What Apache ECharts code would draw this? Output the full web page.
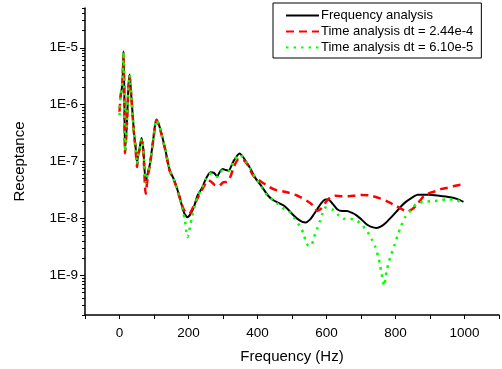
<!DOCTYPE html>
<html>
<head>
<meta charset="utf-8">
<script src="https://cdn.jsdelivr.net/npm/echarts@6/dist/echarts.min.js"></script>
<style>
    body { margin: 0; background: #fff; }
    #chart { width: 502px; height: 369px; }
</style>
</head>
<body>
<div id="chart"></div>
<script>
// 频率响应 (Hz, 值)
let freqFA = [3, 7, 9, 11.5, 14, 16, 21, 25, 29, 35, 42, 46, 51, 54, 57, 64, 69, 76, 82, 88, 98, 107, 114, 121, 133, 145, 160, 173, 187, 197, 206, 216, 226, 240, 250, 264, 274, 283, 291, 299, 308, 316, 330, 348, 358, 369, 380, 393, 410, 431, 445, 459, 475, 488, 502, 516, 530, 540, 552, 563, 573, 585, 597, 605, 618, 631, 645, 659, 673, 688, 702, 716, 730, 745, 758, 773, 788, 802, 815, 830, 847, 864, 880, 897, 926, 959, 978, 997];
let valFA = [1.35e-6, 2.0e-6, 2.75e-6, 8.7e-6, 1.6e-6, 1.55e-7, 4.2e-7, 1.6e-6, 3.4e-6, 1.23e-6, 3.2e-7, 2.0e-7, 9.5e-8, 1.4e-7, 1.55e-7, 2.6e-7, 1.65e-7, 4.4e-8, 6.3e-8, 8.9e-8, 2.5e-7, 5.5e-7, 4.5e-7, 3.2e-7, 1.6e-7, 7.2e-8, 4.5e-8, 2.5e-8, 1.26e-8, 1.05e-8, 1.2e-8, 1.6e-8, 2.5e-8, 3.5e-8, 4.9e-8, 6.5e-8, 6.3e-8, 5.5e-8, 6.6e-8, 7.4e-8, 7.1e-8, 6.9e-8, 1.0e-7, 1.38e-7, 1.2e-7, 9.5e-8, 7.4e-8, 5.2e-8, 3.8e-8, 2.5e-8, 2.1e-8, 1.9e-8, 1.7e-8, 1.45e-8, 1.17e-8, 9.8e-9, 8.7e-9, 8.5e-9, 9.5e-9, 1.17e-8, 1.45e-8, 1.86e-8, 2.14e-8, 2.14e-8, 1.8e-8, 1.45e-8, 1.35e-8, 1.35e-8, 1.26e-8, 1.12e-8, 9.5e-9, 7.9e-9, 7.1e-9, 6.8e-9, 7.2e-9, 8.5e-9, 1.05e-8, 1.3e-8, 1.6e-8, 1.95e-8, 2.3e-8, 2.6e-8, 2.6e-8, 2.6e-8, 2.5e-8, 2.35e-8, 2.2e-8, 1.95e-8];

// 时域分析 dt = 2.44e-4
let freqT1 = [0, 3, 7, 9, 11.5, 14, 16, 21, 25, 29, 35, 42, 46, 51, 54, 57, 64, 69, 76, 82, 88, 98, 107, 114, 121, 133, 145, 160, 173, 187, 202, 216, 230, 245, 255, 264, 275, 288, 300, 312, 322, 331, 345, 359, 370, 388, 402, 416, 433, 450, 483, 516, 545, 560, 573, 585, 597, 610, 626, 645, 664, 683, 702, 720, 735, 755, 773, 790, 802, 818, 835, 848, 859, 871, 883, 900, 916, 933, 950, 970, 988, 1000];
let valT1 = [7.5e-7, 1.4e-6, 2.0e-6, 2.6e-6, 8.0e-6, 1.5e-6, 1.4e-7, 4.0e-7, 1.5e-6, 3.2e-6, 1.2e-6, 3.0e-7, 1.8e-7, 8e-8, 1.3e-7, 1.5e-7, 2.4e-7, 1.5e-7, 2.7e-8, 5.5e-8, 8.5e-8, 2.4e-7, 5.3e-7, 4.4e-7, 3.1e-7, 1.55e-7, 7e-8, 4.3e-8, 2.5e-8, 1.4e-8, 1.2e-8, 1.7e-8, 2.5e-8, 3.7e-8, 4.6e-8, 4.5e-8, 3.9e-8, 3.7e-8, 4.3e-8, 4.4e-8, 5.5e-8, 7.9e-8, 1.1e-7, 1.07e-7, 9e-8, 5.6e-8, 4.8e-8, 4.2e-8, 3.6e-8, 3.2e-8, 2.9e-8, 2.5e-8, 2.0e-8, 1.7e-8, 1.35e-8, 1.5e-8, 1.9e-8, 2.3e-8, 2.5e-8, 2.45e-8, 2.45e-8, 2.5e-8, 2.57e-8, 2.55e-8, 2.45e-8, 2.25e-8, 2.04e-8, 1.8e-8, 1.66e-8, 1.45e-8, 1.32e-8, 1.45e-8, 1.66e-8, 2.05e-8, 2.5e-8, 2.8e-8, 3.0e-8, 3.3e-8, 3.45e-8, 3.7e-8, 3.9e-8, 3.95e-8];

// 时域分析 dt = 6.10e-5
let freqT2 = [0, 3, 7, 9, 11.5, 14, 16, 21, 25, 29, 35, 42, 46, 51, 54, 57, 64, 69, 76, 82, 88, 98, 107, 114, 121, 133, 145, 160, 173, 183, 190, 194, 197, 201, 205, 210, 216, 226, 240, 250, 264, 274, 283, 291, 299, 308, 316, 330, 345, 358, 369, 380, 393, 410, 431, 445, 459, 475, 493, 507, 521, 533, 540, 548, 555, 564, 573, 581, 588, 597, 605, 616, 634, 650, 669, 689, 705, 719, 731, 742, 750, 755, 759, 764, 767, 771, 775, 781, 788, 797, 807, 816, 829, 845, 861, 880, 902, 924, 947, 969, 991, 1000];
let valT2 = [6.5e-7, 1.4e-6, 2.0e-6, 2.7e-6, 8.5e-6, 1.6e-6, 1.5e-7, 4.1e-7, 1.6e-6, 3.3e-6, 1.2e-6, 3.2e-7, 2.0e-7, 9e-8, 1.4e-7, 1.5e-7, 2.5e-7, 1.6e-7, 4.2e-8, 6.2e-8, 8.8e-8, 2.5e-7, 5.4e-7, 4.5e-7, 3.2e-7, 1.6e-7, 7.2e-8, 4.4e-8, 2.4e-8, 1.4e-8, 9e-9, 5.8e-9, 4.7e-9, 5.5e-9, 7.5e-9, 1.05e-8, 1.5e-8, 2.4e-8, 3.5e-8, 4.8e-8, 6.2e-8, 5.8e-8, 5.4e-8, 6.3e-8, 7.0e-8, 6.8e-8, 6.8e-8, 9.8e-8, 1.3e-7, 1.2e-7, 9.5e-8, 7.4e-8, 5.2e-8, 3.7e-8, 2.4e-8, 2.1e-8, 1.8e-8, 1.5e-8, 1.3e-8, 1.0e-8, 7.6e-9, 5.5e-9, 3.9e-9, 3.3e-9, 3.3e-9, 4.7e-9, 6.6e-9, 9e-9, 1.2e-8, 1.55e-8, 1.5e-8, 1.45e-8, 1.15e-8, 9.8e-9, 9.8e-9, 9.0e-9, 7.4e-9, 5.8e-9, 4.3e-9, 3.1e-9, 2.1e-9, 1.55e-9, 1.1e-9, 8.1e-10, 6.5e-10, 8.9e-10, 1.23e-9, 1.74e-9, 2.35e-9, 3.4e-9, 5.2e-9, 7.3e-9, 1.07e-8, 1.4e-8, 1.8e-8, 1.95e-8, 2.0e-8, 2.05e-8, 2.15e-8, 2.15e-8, 1.95e-8, 1.9e-8];

let seriesNames = ['Frequency analysis', 'Time analysis dt = 2.44e-4', 'Time analysis dt = 6.10e-5'];
let xLabels = [0, 200, 400, 600, 800, 1000];
let yDecades = [1e-9, 1e-8, 1e-7, 1e-6, 1e-5];
let yMin = 2e-10, yMax = 5e-5;

let FONT = 'Liberation Sans';

let pairs = (xs, ys) => xs.map((x, i) => [x, ys[i]]);

// 对数副刻度 2..9 x 10^n
let minorValues = [];
for (let e = -10; e <= -5; e++) {
    for (let k = 2; k <= 9; k++) {
        let v = k * Math.pow(10, e);
        if (v >= yMin && v <= yMax) minorValues.push(v);
    }
}

let chart = echarts.init(document.getElementById('chart'), null, { renderer: 'canvas' });

let yBase = {
    type: 'log',
    logBase: 10,
    min: yMin,
    max: yMax,
    splitLine: { show: false }
};

let option = {
    animation: false,
    backgroundColor: '#fff',
    textStyle: { fontFamily: FONT },
    grid: {
        left: 85,
        top: 8,
        width: 420,
        height: 307
    },
    legend: {
        orient: 'vertical',
        left: 273,
        top: 3,
        width: 206,
        borderColor: '#000',
        borderWidth: 1,
        padding: [6, 8, 4, 12],
        itemGap: 3,
        itemWidth: 33,
        itemHeight: 14,
        itemStyle: { opacity: 0 },
        textStyle: { fontFamily: FONT, fontSize: 13, color: '#000', padding: [0, 0, 0, -3] },
        data: seriesNames
    },
    xAxis: {
        type: 'value',
        min: -100,
        max: 1100,
        interval: 100,
        name: 'Frequency (Hz)',
        nameLocation: 'middle',
        nameGap: 34,
        nameTextStyle: { fontFamily: FONT, fontSize: 15, color: '#000' },
        axisLine: { onZero: false, lineStyle: { color: '#000', width: 1.5 } },
        axisTick: { length: 4, lineStyle: { color: '#000', width: 1 } },
        axisLabel: {
            fontFamily: FONT, fontSize: 13.5, color: '#000', margin: 11,
            formatter: v => xLabels.indexOf(v) >= 0 ? String(v) : ''
        },
        splitLine: { show: false }
    },
    yAxis: [
        Object.assign({}, yBase, {
            name: 'Receptance',
            nameLocation: 'middle',
            nameGap: 58,
            nameTextStyle: { fontFamily: FONT, fontSize: 15, color: '#000' },
            axisLine: { show: true, onZero: false, lineStyle: { color: '#000', width: 1.5 } },
            axisTick: { length: 5, customValues: yDecades, lineStyle: { color: '#000', width: 1 } },
            axisLabel: {
                fontFamily: FONT, fontSize: 13.5, color: '#000', margin: 7,
                customValues: yDecades,
                formatter: v => '1E' + Math.round(Math.log10(v))
            }
        }),
        // 只画副刻度
        Object.assign({}, yBase, {
            position: 'left',
            axisLine: { show: false, onZero: false },
            axisTick: { show: true, length: 3, customValues: minorValues, lineStyle: { color: '#000', width: 1 } },
            axisLabel: { show: false }
        })
    ],
    series: [
        {
            name: seriesNames[0],
            type: 'line',
            data: pairs(freqFA, valFA),
            showSymbol: false,
            symbol: 'none',
            smooth: 0.25,
            lineStyle: { color: '#000', width: 2 },
            itemStyle: { color: '#000' }
        },
        {
            name: seriesNames[1],
            type: 'line',
            data: pairs(freqT1, valT1),
            showSymbol: false,
            symbol: 'none',
            smooth: 0.25,
            lineStyle: { color: '#ff0000', width: 2.5, type: [8, 5] },
            itemStyle: { color: '#ff0000' }
        },
        {
            name: seriesNames[2],
            type: 'line',
            data: pairs(freqT2, valT2),
            showSymbol: false,
            symbol: 'none',
            smooth: 0.25,
            lineStyle: { color: '#00ff00', width: 2.5, type: [2.5, 5] },
            itemStyle: { color: '#00ff00' }
        }
    ]
};

chart.setOption(option);
</script>
</body>
</html>
